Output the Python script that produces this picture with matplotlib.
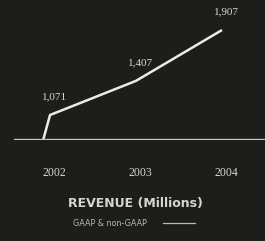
import matplotlib.pyplot as plt

# revenue data (millions)
years = [2002, 2003, 2004]
revenue = [1071, 1407, 1907]
year_labels = ['2002', '2003', '2004']
value_labels = ['1,071', '1,407', '1,907']

# line starts from the baseline just left of 2002
start_x = 2001.92
baseline = 825

bg = '#1c1e1a'
fg = '#d6d6ce'

fig = plt.figure(figsize=(2.65, 2.41), dpi=100, facecolor=bg)
ax = fig.add_axes([14 / 265, 101 / 241, 251 / 265, 130 / 241])
ax.set_facecolor(bg)

xs = [start_x] + years
ys = [baseline] + revenue
ax.plot(xs, ys, color='#ececE6', lw=1.8, solid_joinstyle='round', solid_capstyle='butt')
ax.axhline(baseline, color='#c4c6bc', lw=2.4)

for x, y, lab in zip(years, revenue, value_labels):
    ax.annotate(lab, (x, y), xytext=(3, 10), textcoords='offset points',
                ha='center', va='bottom', color=fg, fontsize=8,
                family='Liberation Serif')

ax.set_xlim(2001.581, 2004.5)
ax.set_ylim(baseline, 2104)
ax.axis('off')

# year labels below the baseline
for x, lab in zip(years, year_labels):
    fig.text((50 + (x - 2002) * 86 + 4) / 265, 1 - 173 / 241, lab,
             ha='center', va='center', color=fg, fontsize=8.5,
             family='Liberation Serif')

fig.text(135 / 265, 1 - 203 / 241, 'REVENUE (Millions)', ha='center', va='center',
         color=fg, fontsize=9, fontweight='bold')

fig.text(110 / 265, 1 - 223 / 241, 'GAAP & non-GAAP', ha='center', va='center',
         color='#b8bab0', fontsize=5.8)
fig.add_artist(plt.Line2D([163 / 265, 195 / 265], [1 - 223 / 241, 1 - 223 / 241],
                          color='#b8bab0', lw=0.9))

fig.savefig('out.png', dpi=100, facecolor=bg)
